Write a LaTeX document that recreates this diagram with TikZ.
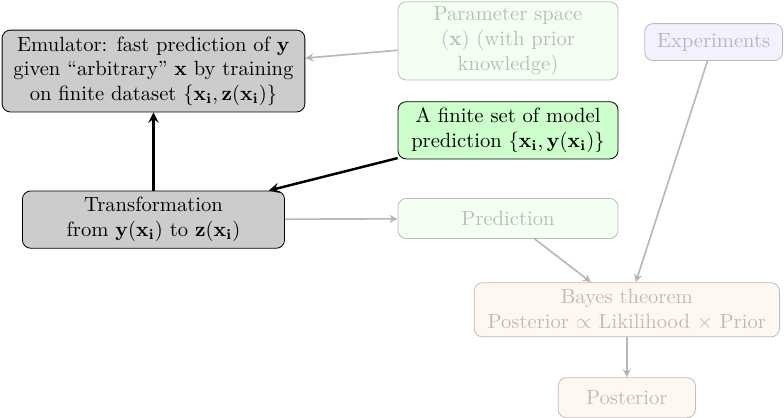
\documentclass[tikz,border=0pt]{standalone}
\usepackage{tikz}
\usetikzlibrary{shapes,arrows,positioning}

\begin{document}
\begin{tikzpicture}[
    >=stealth,
    block/.style={rectangle, draw, fill=black!20, align=center, rounded corners, inner sep=2pt},
    sample/.style={rectangle, draw, fill=green!20, align=center, rounded corners, inner sep=2pt},
    faded/.style={rectangle, draw, align=center, rounded corners, inner sep=2pt, opacity=0.25},
    link/.style={->, very thick},
    fadedlink/.style={->, thick, opacity=0.28}
]
\useasboundingbox (0,0) rectangle (13.377,-7.13);

% Emulator side
\node[block, minimum width=5.166cm, minimum height=1.397cm] (emu) at (2.619,-1.212)
    {Emulator: fast prediction of $\mathbf{y}$\\
     given ``arbitrary'' $\mathbf{x}$ by training\\
     on finite dataset $\{\mathbf{x_i},\mathbf{z}(\mathbf{x_i})\}$};

\node[block, below=1.334cm of emu, minimum width=4.473cm, minimum height=0.977cm] (trans)
    {Transformation\\ from $\mathbf{y}(\mathbf{x_i})$ to $\mathbf{z}(\mathbf{x_i})$};

% Model side
\node[faded, fill=green!20, right=1.575cm of emu, yshift=0.515cm, minimum width=3.754cm, minimum height=1.334cm] (param)
    {Parameter space\\ $(\mathbf{x})$ (with prior\\ knowledge)};

\node[sample, below=0.357cm of param, minimum width=3.754cm, minimum height=0.977cm] (finite)
    {A finite set of model\\ prediction $\{\mathbf{x_i},\mathbf{y}(\mathbf{x_i})\}$};

\node[faded, fill=green!20, below=0.66cm of finite, minimum width=3.754cm, minimum height=0.683cm] (pred) {Prediction};

\node[faded, fill=blue!20, right=0.441cm of param, yshift=-0.021cm, minimum width=2.352cm, minimum height=0.63cm] (exp) {Experiments};

% Inference
\node[faded, fill=orange!20, below=0.74cm of pred, xshift=2.027cm, minimum width=5.208cm, minimum height=0.924cm] (bayes)
    {Bayes theorem\\ Posterior $\propto$ Likilihood $\times$ Prior};

\node[faded, fill=orange!20, below=0.683cm of bayes, minimum width=2.342cm, minimum height=0.683cm] (post) {Posterior};

% Connect lines
\draw[fadedlink] (param) -- (emu);
\draw[link] (finite) -- (trans);
\draw[link] (trans) -- (emu);
\draw[fadedlink] (trans) -- (pred);
\draw[fadedlink] (pred) -- (bayes);
\draw[fadedlink] (exp) -- (bayes);
\draw[fadedlink] (bayes) -- (post);

\end{tikzpicture}
\end{document}
